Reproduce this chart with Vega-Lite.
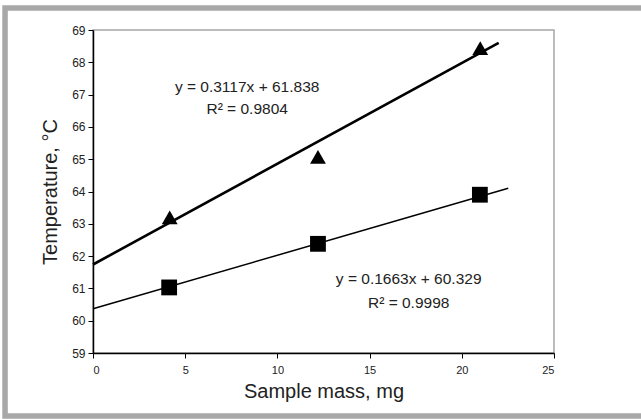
{
  "$schema": "https://vega.github.io/schema/vega-lite/v6.json",
  "width": 461,
  "height": 323,
  "autosize": "none",
  "padding": {"left": 93, "top": 30, "right": 87, "bottom": 66},
  "background": "white",
  "config": {
    "font": "Liberation Sans",
    "view": {"stroke": "#a6a6a6", "strokeWidth": 1.5},
    "axis": {
      "grid": false,
      "domainColor": "#000000",
      "domainWidth": 1.5,
      "tickColor": "#000000",
      "tickWidth": 1,
      "tickSize": 5,
      "labelFont": "Liberation Sans",
      "labelFontSize": 11,
      "labelColor": "#222222",
      "titleFont": "Liberation Sans",
      "titleFontSize": 20,
      "titleFontWeight": "normal",
      "titleColor": "#222222"
    }
  },
  "datasets": {
    "points": [
      {"series": "upper", "mass": 4.16, "temp": 63.2},
      {"series": "upper", "mass": 12.2, "temp": 65.07},
      {"series": "upper", "mass": 21.0, "temp": 68.44},
      {"series": "lower", "mass": 4.13, "temp": 61.03},
      {"series": "lower", "mass": 12.2, "temp": 62.38},
      {"series": "lower", "mass": 20.98, "temp": 63.9}
    ],
    "trend": [
      {"series": "upper", "mass": 0, "temp": 61.74},
      {"series": "upper", "mass": 22.0, "temp": 68.6},
      {"series": "lower", "mass": 0, "temp": 60.37},
      {"series": "lower", "mass": 22.52, "temp": 64.1}
    ],
    "labels": [
      {"mass": 8.36, "temp": 67.09, "label": "y = 0.3117x + 61.838"},
      {"mass": 8.36, "temp": 66.39, "label": "R² = 0.9804"},
      {"mass": 17.12, "temp": 61.13, "label": "y = 0.1663x + 60.329"},
      {"mass": 17.12, "temp": 60.39, "label": "R² = 0.9998"}
    ],
    "frame": [
      {"x0": -4.77, "x1": 36, "y0": 69.68, "y1": 57.05}
    ]
  },
  "encoding": {
    "x": {
      "field": "mass",
      "type": "quantitative",
      "scale": {"domain": [0, 25], "nice": false, "zero": false},
      "axis": {"values": [0, 5, 10, 15, 20, 25], "labelPadding": 6, "title": "Sample mass, mg", "titlePadding": 6}
    },
    "y": {
      "field": "temp",
      "type": "quantitative",
      "scale": {"domain": [59, 69], "nice": false, "zero": false},
      "axis": {"values": [59, 60, 61, 62, 63, 64, 65, 66, 67, 68, 69], "labelPadding": 3, "labelFontSize": 12, "title": "Temperature, °C", "titlePadding": 11}
    }
  },
  "layer": [
    {
      "data": {"name": "frame"},
      "mark": {"type": "rect", "fill": "transparent", "stroke": "#a8a8a8", "strokeWidth": 5.5, "clip": false},
      "encoding": {
        "x": {"field": "x0", "type": "quantitative", "title": "Sample mass, mg"},
        "x2": {"field": "x1"},
        "y": {"field": "y0", "type": "quantitative", "title": "Temperature, °C"},
        "y2": {"field": "y1"}
      }
    },
    {
      "data": {"name": "trend"},
      "mark": {"type": "line", "color": "#000000", "clip": false},
      "encoding": {
        "detail": {"field": "series"},
        "strokeWidth": {"field": "series", "scale": {"domain": ["upper", "lower"], "range": [2.6, 1.5]}, "legend": null}
      }
    },
    {
      "data": {"name": "points"},
      "mark": {"type": "point", "filled": true, "color": "#000000", "opacity": 1, "size": 250},
      "encoding": {
        "shape": {"field": "series", "scale": {"domain": ["upper", "lower"], "range": ["triangle-up", "square"]}, "legend": null}
      }
    },
    {
      "data": {"name": "labels"},
      "mark": {"type": "text", "font": "Liberation Sans", "fontSize": 15.5, "color": "#222222", "align": "center", "baseline": "alphabetic"},
      "encoding": {"text": {"field": "label"}}
    }
  ]
}
